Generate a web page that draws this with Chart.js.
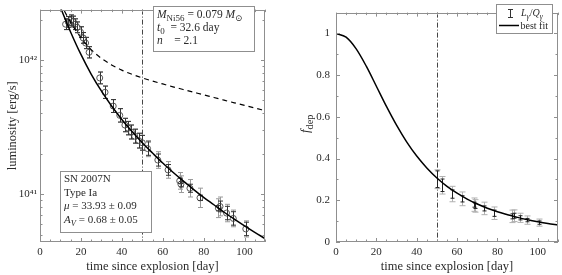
<!DOCTYPE html>
<html>
<head>
<meta charset="utf-8">
<script src="https://cdn.jsdelivr.net/npm/chart.js@4.4.1/dist/chart.umd.min.js"></script>
<style>
html, body { margin: 0; padding: 0; background: #fff; }
#wrap { position: relative; width: 562px; height: 275px; }
canvas { position: absolute; top: 0; }
#lumChart { left: 0; }
#depChart { left: 281px; }
</style>
</head>
<body>
<div id="wrap">
  <canvas id="lumChart" width="281" height="275"></canvas>
  <canvas id="depChart" width="281" height="275"></canvas>
</div>
<script>
// ---- left panel: bolometric light curve ----
const obsDays = [12.5, 13.8, 15.0, 16.3, 17.2, 18.2, 19.8, 21.1, 22.3, 24.0,
  29.2, 31.8, 35.8, 39.0, 41.5, 43.1, 44.7, 46.3, 48.3, 50.0,
  52.6, 57.6, 62.6, 68.3, 68.9, 73.3, 78.2, 87.2, 88.0, 91.2, 94.5, 100.6];
const obsLum = [1.845e42, 1.919e42, 1.972e42, 1.932e42, 1.845e42, 1.750e42, 1.611e42, 1.459e42, 1.337e42, 1.140e42,
  7.35e41, 5.75e41, 4.54e41, 3.87e41, 3.28e41, 3.11e41, 2.91e41, 2.71e41, 2.51e41, 2.42e41,
  2.19e41, 1.80e41, 1.52e41, 1.26e41, 1.19e41, 1.11e41, 9.42e40, 7.89e40, 8.13e40, 7.26e40, 6.62e40, 5.53e40];
// errors in dex (total, and the smaller dark part)
const obsErrDex = [0.04, 0.04, 0.04, 0.04, 0.04, 0.04, 0.04, 0.04, 0.042, 0.042,
  0.044, 0.046, 0.048, 0.05, 0.05, 0.05, 0.052, 0.052, 0.055, 0.055,
  0.06, 0.062, 0.062, 0.062, 0.062, 0.065, 0.072, 0.07, 0.07, 0.065, 0.062, 0.06];
const obsErrDarkDex = [0.04, 0.04, 0.04, 0.04, 0.04, 0.04, 0.04, 0.04, 0.042, 0.042,
  0.044, 0.046, 0.048, 0.05, 0.05, 0.05, 0.052, 0.052, 0.055, 0.055,
  0.05, 0.045, 0.04, 0.02, 0.02, 0.03, 0.02, 0.02, 0.04, 0.05, 0.05, 0.05];

const modelDays = [10, 12, 15, 20, 25, 30, 35, 40, 45, 50, 55, 60, 65, 70, 75, 80, 85, 90, 95, 100, 105, 110];
const fitLum = [2.459e42, 2.067e42, 1.609e42, 1.099e42, 7.86e41, 5.88e41, 4.54e41, 3.61e41, 2.93e41, 2.42e41, 2.03e41,
  1.71e41, 1.46e41, 1.26e41, 1.09e41, 9.50e40, 8.37e40, 7.36e40, 6.53e40, 5.82e40, 5.21e40, 4.69e40];
const fullLum = [2.654e42, 2.306e42, 1.904e42, 1.463e42, 1.195e42, 1.028e42, 9.18e41, 8.40e41, 7.82e41, 7.36e41, 6.97e41,
  6.63e41, 6.31e41, 6.03e41, 5.76e41, 5.50e41, 5.26e41, 5.02e41, 4.80e41, 4.59e41, 4.39e41, 4.20e41];

const lumTicks = [5e40, 6e40, 7e40, 8e40, 9e40, 1e41, 2e41, 3e41, 4e41, 5e41, 6e41, 7e41, 8e41, 9e41, 1e42, 2e42];
const lumMajor = [1e41, 1e42];
const lumMajorLabels = ['10\u2074\u00b9', '10\u2074\u00b2'];

// ---- right panel: deposition fraction ----
const depDays = [50.0, 52.6, 57.6, 62.6, 68.3, 68.9, 73.3, 78.2, 87.2, 88.0, 91.2, 94.5, 100.6];
const depObs = [0.301, 0.272, 0.230, 0.207, 0.179, 0.173, 0.161, 0.138, 0.123, 0.126, 0.116, 0.105, 0.093];
const depErr = [0.045, 0.042, 0.037, 0.033, 0.032, 0.03, 0.03, 0.03, 0.03, 0.028, 0.022, 0.02, 0.017];
const depErrDark = [0.04, 0.03, 0.02, 0.015, 0.012, 0.012, 0.012, 0.015, 0.012, 0.012, 0.01, 0.008, 0.008];
const depFitDays = [0, 5, 10, 15, 20, 25, 30, 35, 40, 45, 50, 55, 60, 65, 70, 75, 80, 85, 90, 95, 100, 105, 110];
const depFit = [1, 0.982, 0.926, 0.843, 0.747, 0.650, 0.560, 0.480, 0.412, 0.355, 0.307, 0.267, 0.234, 0.206,
  0.182, 0.162, 0.145, 0.131, 0.118, 0.107, 0.0976, 0.0892, 0.082];

const dayTicks = [0, 5, 10, 15, 20, 25, 30, 35, 40, 45, 50, 55, 60, 65, 70, 75, 80, 85, 90, 95, 100, 105, 110];
const depTicks = [0, 0.1, 0.2, 0.3, 0.4, 0.5, 0.6, 0.7, 0.8, 0.9, 1.0, 1.1];
const cutoffDay = 50;

const serif = '"Liberation Serif", "DejaVu Serif", serif';
const ink = '#2a2a2a';
const frameGray = '#8f8f8f';

function pts(xs, ys) { return xs.map((x, i) => ({x: x, y: ys[i]})); }

function drawRich(ctx, x, y, parts, size) {
  parts.forEach(p => {
    const fs = p.sub ? size * 0.78 : size;
    ctx.font = (p.it ? 'italic ' : '') + fs + 'px ' + serif;
    ctx.fillText(p.t, x, y + (p.sub ? size * 0.28 : 0));
    x += ctx.measureText(p.t).width;
  });
}

// frame round the plot with inward ticks on all sides
const frameTicks = {
  id: 'frameTicks',
  afterDatasetsDraw(chart) {
    const {ctx, chartArea: a, scales: {x, y}} = chart;
    ctx.save();
    ctx.strokeStyle = frameGray;
    ctx.lineWidth = 1;
    ctx.beginPath();
    x.ticks.forEach(t => {
      const px = Math.round(x.getPixelForValue(t.value)) + 0.5;
      const len = t.label ? 4 : 2.5;
      ctx.moveTo(px, a.bottom); ctx.lineTo(px, a.bottom - len);
      ctx.moveTo(px, a.top); ctx.lineTo(px, a.top + len);
    });
    y.ticks.forEach(t => {
      const py = Math.round(y.getPixelForValue(t.value)) + 0.5;
      const len = t.label ? 4 : 2.5;
      ctx.moveTo(a.left, py); ctx.lineTo(a.left + len, py);
      ctx.moveTo(a.right, py); ctx.lineTo(a.right - len, py);
    });
    ctx.stroke();
    ctx.strokeRect(Math.round(a.left) + 0.5, Math.round(a.top) + 0.5,
      Math.round(a.right - a.left) - 1, Math.round(a.bottom - a.top) - 1);
    ctx.restore();
  }
};

const cutoffLine = {
  id: 'cutoffLine',
  beforeDatasetsDraw(chart) {
    const {ctx, chartArea: a, scales: {x}} = chart;
    const px = Math.round(x.getPixelForValue(cutoffDay)) + 0.5;
    ctx.save();
    ctx.strokeStyle = '#444';
    ctx.lineWidth = 1;
    ctx.setLineDash([5, 2, 1, 2]);
    ctx.beginPath();
    ctx.moveTo(px, a.top); ctx.lineTo(px, a.bottom);
    ctx.stroke();
    ctx.restore();
  }
};

function errorBars(id, sets) {
  return {
    id: id,
    beforeDatasetsDraw(chart) {
      const {ctx, chartArea: a, scales: {x, y}} = chart;
      ctx.save();
      ctx.beginPath();
      ctx.rect(a.left, a.top, a.right - a.left, a.bottom - a.top);
      ctx.clip();
      ctx.lineWidth = 1;
      sets.forEach(s => {
        ctx.strokeStyle = s.color;
        ctx.beginPath();
        s.days.forEach((d, i) => {
          const px = Math.round(x.getPixelForValue(d)) + 0.5;
          const r = s.range(i);
          const y0 = y.getPixelForValue(r[0]), y1 = y.getPixelForValue(r[1]);
          ctx.moveTo(px, y0); ctx.lineTo(px, y1);
          ctx.moveTo(px - s.cap, y0); ctx.lineTo(px + s.cap, y0);
          ctx.moveTo(px - s.cap, y1); ctx.lineTo(px + s.cap, y1);
        });
        ctx.stroke();
      });
      ctx.restore();
    }
  };
}

const lumNotes = {
  id: 'lumNotes',
  afterDraw(chart) {
    const ctx = chart.ctx;
    ctx.save();
    ctx.fillStyle = '#fff';
    ctx.strokeStyle = frameGray;
    ctx.lineWidth = 1;
    ctx.fillRect(153.5, 6.5, 101, 45);
    ctx.strokeRect(153.5, 6.5, 101, 45);
    ctx.fillRect(60.5, 171.5, 91, 61);
    ctx.strokeRect(60.5, 171.5, 91, 61);
    ctx.fillStyle = ink;
    ctx.textBaseline = 'alphabetic';
    drawRich(ctx, 157, 18, [{t: 'M', it: 1}, {t: 'Ni56', sub: 1}, {t: ' = 0.079 '}, {t: 'M', it: 1}, {t: '\u2299', sub: 1}], 11.5);
    drawRich(ctx, 157, 31, [{t: 't', it: 1}, {t: '0', sub: 1}, {t: '  = 32.6 day'}], 11.5);
    drawRich(ctx, 157, 44, [{t: 'n', it: 1}, {t: '    = 2.1'}], 11.5);
    drawRich(ctx, 64, 182, [{t: 'SN 2007N'}], 11);
    drawRich(ctx, 64, 196, [{t: 'Type Ia'}], 11);
    drawRich(ctx, 64, 209, [{t: '\u03bc', it: 1}, {t: ' = 33.93 \u00b1 0.09'}], 11);
    drawRich(ctx, 64, 223, [{t: 'A', it: 1}, {t: 'V', it: 1, sub: 1}, {t: ' = 0.68 \u00b1 0.05'}], 11);
    ctx.restore();
  }
};

const depNotes = {
  id: 'depNotes',
  afterDraw(chart) {
    const ctx = chart.ctx;
    ctx.save();
    // y title
    ctx.fillStyle = ink;
    ctx.translate(24, 133);
    ctx.rotate(-Math.PI / 2);
    drawRich(ctx, 0, 4, [{t: 'f', it: 1}, {t: 'dep', sub: 1}], 13);
    ctx.restore();
    // legend
    ctx.save();
    ctx.fillStyle = '#fff';
    ctx.strokeStyle = frameGray;
    ctx.lineWidth = 1;
    ctx.fillRect(215.5, 4.5, 56, 29);
    ctx.strokeRect(215.5, 4.5, 56, 29);
    ctx.strokeStyle = '#333';
    ctx.beginPath();
    ctx.moveTo(229.5, 9); ctx.lineTo(229.5, 18);
    ctx.moveTo(227, 9.5); ctx.lineTo(232, 9.5);
    ctx.moveTo(227, 17.5); ctx.lineTo(232, 17.5);
    ctx.stroke();
    ctx.strokeStyle = '#000';
    ctx.lineWidth = 1.5;
    ctx.beginPath();
    ctx.moveTo(218, 25.5); ctx.lineTo(238, 25.5);
    ctx.stroke();
    ctx.fillStyle = ink;
    drawRich(ctx, 240, 16, [{t: 'L', it: 1}, {t: '\u03b3', it: 1, sub: 1}, {t: '/'}, {t: 'Q', it: 1}, {t: '\u03b3', it: 1, sub: 1}], 10);
    drawRich(ctx, 239.5, 29, [{t: 'best fit'}], 10);
    ctx.restore();
  }
};

function dayAxis() {
  return {
    type: 'linear', min: 0, max: 110,
    afterBuildTicks: s => { s.ticks = dayTicks.map(v => ({value: v})); },
    afterFit: s => { s.height = 33; },
    grid: {display: false, drawTicks: false},
    border: {display: false},
    ticks: {
      autoSkip: false, maxRotation: 0, padding: 4, color: ink,
      font: {family: serif, size: 11},
      callback: v => (v % 20 === 0 ? String(v) : '')
    },
    title: {display: true, text: 'time since explosion [day]', color: ink,
      font: {family: serif, size: 12.5}, padding: {top: 0, bottom: 1}}
  };
}

const common = {
  responsive: false,
  animation: false,
  events: [],
  plugins: {legend: {display: false}, tooltip: {enabled: false}},
  elements: {line: {cubicInterpolationMode: 'monotone'}}
};

new Chart(document.getElementById('lumChart'), {
  type: 'scatter',
  data: {
    datasets: [
      {data: pts(modelDays, fullLum), showLine: true, borderColor: '#000', borderWidth: 1.2,
        borderDash: [5, 4], pointRadius: 0},
      {data: pts(modelDays, fitLum), showLine: true, borderColor: '#000', borderWidth: 1.5, pointRadius: 0},
      {data: pts(obsDays, obsLum), pointStyle: 'circle', pointRadius: 3, borderWidth: 0.9,
        borderColor: '#444', backgroundColor: 'rgba(0,0,0,0)'}
    ]
  },
  options: Object.assign({}, common, {
    layout: {padding: {top: 1, right: 16, left: 0, bottom: 0}},
    scales: {
      x: dayAxis(),
      y: {
        type: 'logarithmic', min: 4.42e40, max: 2.37e42,
        afterBuildTicks: s => { s.ticks = lumTicks.map(v => ({value: v})); },
        afterFit: s => { s.width = 40; },
        grid: {display: false, drawTicks: false},
        border: {display: false},
        ticks: {
          autoSkip: false, padding: 3, color: ink, font: {family: serif, size: 11},
          callback: v => {
            const k = lumMajor.findIndex(m => Math.abs(m - v) / m < 1e-6);
            return k >= 0 ? lumMajorLabels[k] : '';
          }
        },
        title: {display: true, text: 'luminosity [erg/s]', color: ink,
          font: {family: serif, size: 12.5}, padding: {top: 5, bottom: 0}}
      }
    }
  }),
  plugins: [cutoffLine, errorBars('lumErr', [
    {days: obsDays, color: '#9a9a9a', cap: 2.5, range: i => [obsLum[i] / Math.pow(10, obsErrDex[i]), obsLum[i] * Math.pow(10, obsErrDex[i])]},
    {days: obsDays, color: '#333', cap: 2.5, range: i => [obsLum[i] / Math.pow(10, obsErrDarkDex[i]), obsLum[i] * Math.pow(10, obsErrDarkDex[i])]}
  ]), frameTicks, lumNotes]
});

new Chart(document.getElementById('depChart'), {
  type: 'scatter',
  data: {
    datasets: [
      {data: pts(depFitDays, depFit), showLine: true, borderColor: '#000', borderWidth: 1.5, pointRadius: 0}
    ]
  },
  options: Object.assign({}, common, {
    layout: {padding: {top: 1, right: 1, left: 0, bottom: 0}},
    scales: {
      x: dayAxis(),
      y: {
        type: 'linear', min: 0, max: 1.1,
        afterBuildTicks: s => { s.ticks = depTicks.map(v => ({value: v})); },
        afterFit: s => { s.width = 55; },
        grid: {display: false, drawTicks: false},
        border: {display: false},
        ticks: {
          autoSkip: false, padding: 6, color: ink, font: {family: serif, size: 11},
          callback: v => {
            const r = Math.round(v * 10);
            return (r % 2 === 0 && r <= 10) ? String(r / 10) : '';
          }
        },
        title: {display: false}
      }
    }
  }),
  plugins: [cutoffLine, errorBars('depErr', [
    {days: depDays, color: '#b0b0b0', cap: 3, range: i => [depObs[i] - depErr[i], depObs[i] + depErr[i]]},
    {days: depDays, color: '#222', cap: 2, range: i => [depObs[i] - depErrDark[i], depObs[i] + depErrDark[i]]}
  ]), frameTicks, depNotes]
});
</script>
</body>
</html>
